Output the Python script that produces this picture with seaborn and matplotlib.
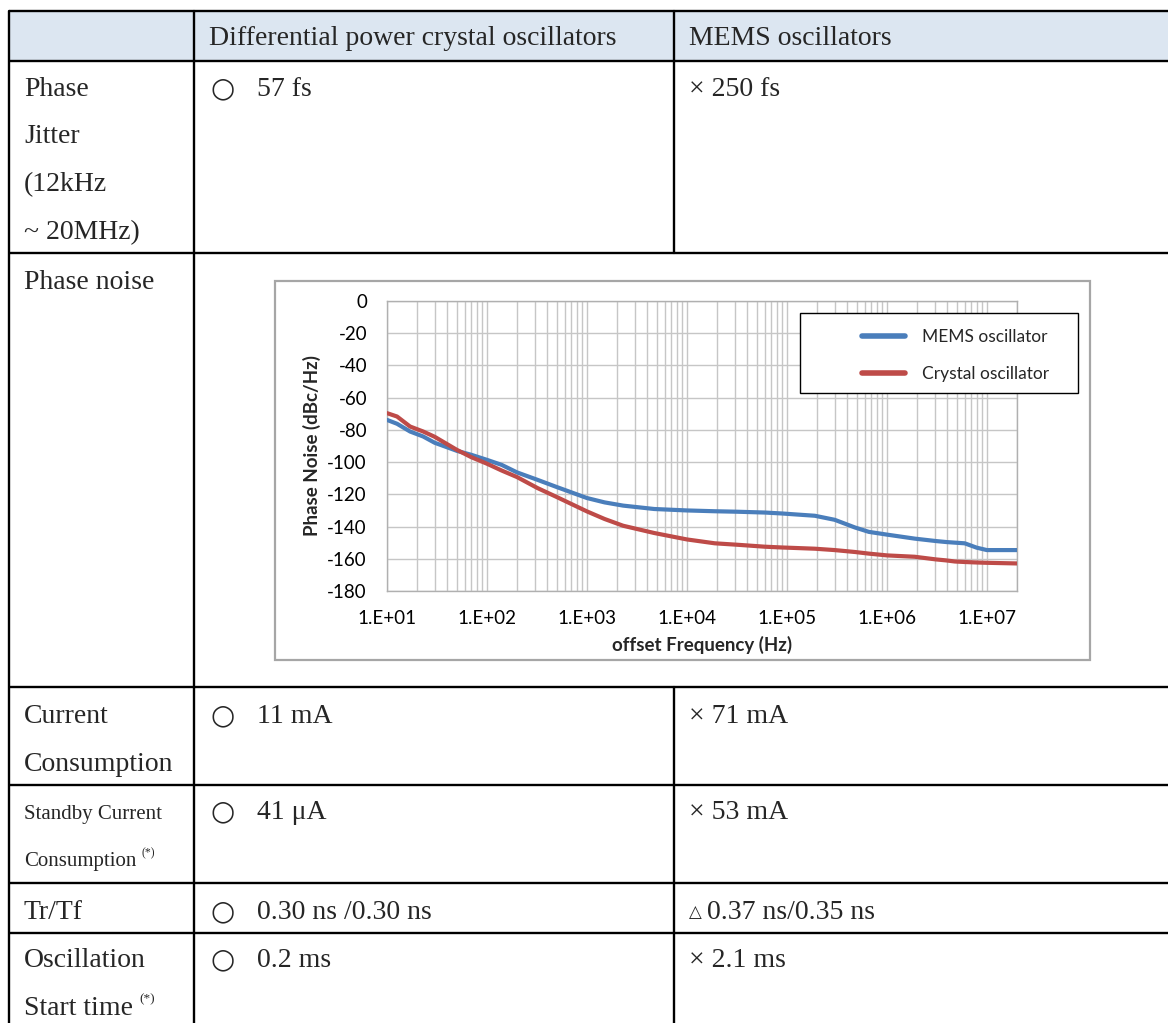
import numpy as np
import pandas as pd
import matplotlib
matplotlib.use("Agg")
import matplotlib.pyplot as plt
from matplotlib.patches import Rectangle
from matplotlib.ticker import LogLocator, NullFormatter
import seaborn as sns

# ---------------- data ----------------
freq_hz = [10, 12.6, 17, 23, 30, 50, 70, 100, 140, 200, 320, 500, 1000, 1500, 2300, 4700,
           1e4, 1.9e4, 3.2e4, 6e4, 9e4, 1.9e5, 3e5, 4.8e5, 6.6e5, 1e6, 1.9e6, 3.1e6, 3.9e6,
           4.8e6, 6e6, 7.9e6, 1e7, 2e7]
mems_noise = [-73.8, -76.2, -81.0, -84.1, -88.0, -93.0, -95.5, -98.6, -101.7, -106.4, -111.0,
              -115.5, -122.3, -125.0, -127.0, -129.1, -130.0, -130.5, -130.8, -131.3, -131.9,
              -133.3, -135.8, -140.6, -143.3, -145.0, -147.5, -149.0, -149.6, -150.0, -150.4,
              -153.1, -154.6, -154.6]
crystal_noise = [-69.6, -71.7, -77.9, -81.0, -84.3, -92.4, -97.0, -101.0, -105.2, -109.3, -116.1,
                 -121.7, -130.6, -135.3, -139.5, -144.0, -148.0, -150.4, -151.3, -152.5, -153.0,
                 -153.75, -154.6, -155.8, -156.8, -157.9, -158.75, -160.4, -161.0, -161.7, -162.0,
                 -162.3, -162.5, -162.9]
series_names = ["MEMS oscillator", "Crystal oscillator"]
series_colors = ["#4a7ebb", "#be4b48"]
x_ticks = [1e1, 1e2, 1e3, 1e4, 1e5, 1e6, 1e7]
x_tick_labels = ["1.E+01", "1.E+02", "1.E+03", "1.E+04", "1.E+05", "1.E+06", "1.E+07"]
y_ticks = [-180, -160, -140, -120, -100, -80, -60, -40, -20, 0]
y_tick_labels = ["-180", "-160", "-140", "-120", "-100", "-80", "-60", "-40", "-20", "0"]

header_cells = ["", "Differential power crystal oscillators", "MEMS oscillators"]
row_labels = [["Phase", "Jitter", "(12kHz", "~ 20MHz)"],
              ["Phase noise"],
              ["Current", "Consumption"],
              ["Standby Current", "Consumption"],
              ["Tr/Tf"],
              ["Oscillation", "Start time"]]
crystal_values = ["57 fs", None, "11 mA", "41 \u03bcA", "0.30 ns /0.30 ns", "0.2 ms"]
mems_values = ["\u00d7 250 fs", None, "\u00d7 71 mA", "\u00d7 53 mA", "0.37 ns/0.35 ns", "\u00d7 2.1 ms"]

df = pd.DataFrame({
    "freq": freq_hz * 2,
    "noise": mems_noise + crystal_noise,
    "series": [series_names[0]] * len(freq_hz) + [series_names[1]] * len(freq_hz),
})

# ---------------- figure ----------------
sns.set_style("white")
plt.rcParams["font.family"] = ["Lato", "DejaVu Sans"]

W, H = 1168, 1023
fig = plt.figure(figsize=(W / 100, H / 100), dpi=100)
fig.patch.set_facecolor("white")

bg = fig.add_axes([0, 0, 1, 1], zorder=0)
bg.set_xlim(0, W)
bg.set_ylim(H, 0)
bg.axis("off")

serif = ["Liberation Serif", "DejaVu Serif"]
lw_tab = 1.7

# header fill
bg.add_patch(Rectangle((9, 11), W - 9, 50, facecolor="#dce6f1", edgecolor="none", zorder=0))

# table lines
for y in [11, 61, 253, 687, 785, 883, 933]:
    bg.plot([9, W], [y, y], color="black", lw=lw_tab, solid_capstyle="butt", zorder=2)
bg.plot([9, 9], [11, H], color="black", lw=lw_tab, zorder=2)
bg.plot([194, 194], [11, H], color="black", lw=lw_tab, zorder=2)
bg.plot([674, 674], [11, 253], color="black", lw=lw_tab, zorder=2)
bg.plot([674, 674], [687, H], color="black", lw=lw_tab, zorder=2)

fs_main = 20
fs_small = 15

# header text
bg.text(209, 45, header_cells[1], fontsize=fs_main, family=serif, va="baseline", ha="left")
bg.text(689, 45, header_cells[2], fontsize=fs_main, family=serif, va="baseline", ha="left")

# row labels
row_baselines = [[96, 143, 191, 239], [289], [723, 771], [819, 866], [919], [967, 1015]]
for r, (labels, bases) in enumerate(zip(row_labels, row_baselines)):
    for lab, yb in zip(labels, bases):
        fs = fs_small if r == 3 else fs_main
        bg.text(24, yb, lab, fontsize=fs, family=serif, va="baseline", ha="left")

# superscripts
bg.text(141, 856, "(*)", fontsize=8.5, family=serif, va="baseline", ha="left")
bg.text(139, 1002, "(*)", fontsize=9.5, family=serif, va="baseline", ha="left")

# values
first_base = [96, None, 723, 819, 919, 967]
for r in range(len(row_labels)):
    yb = first_base[r]
    if yb is None:
        continue
    bg.text(210, yb, "\u25cb", fontsize=20, family=["DejaVu Sans"], va="baseline", ha="left")
    bg.text(257, yb, crystal_values[r], fontsize=fs_main, family=serif, va="baseline", ha="left")
    if r == 4:
        bg.text(689, yb - 2, "\u25b3", fontsize=12, family=["DejaVu Sans"], va="baseline", ha="left")
        bg.text(707, yb, mems_values[r], fontsize=fs_main, family=serif, va="baseline", ha="left")
    else:
        bg.text(689, yb, mems_values[r], fontsize=fs_main, family=serif, va="baseline", ha="left")

# chart frame
bg.add_patch(Rectangle((275, 281), 815, 379, facecolor="white", edgecolor="#a6a6a6", lw=1.6, zorder=3))

# ---------------- chart ----------------
px_l, px_r, px_t, px_b = 387, 1017, 301, 591
ax = fig.add_axes([px_l / W, 1 - px_b / H, (px_r - px_l) / W, (px_b - px_t) / H], zorder=2)
ax.set_facecolor("white")

sns.lineplot(data=df, x="freq", y="noise", hue="series", hue_order=series_names,
             palette=series_colors, linewidth=3.0, ax=ax, legend=True, zorder=3)

ax.set_xscale("log")
ax.set_xlim(10, 2e7)
ax.set_ylim(-180, 0)
ax.set_xticks(x_ticks)
ax.set_xticklabels(x_tick_labels)
ax.xaxis.set_minor_locator(LogLocator(base=10, subs=np.arange(2, 10), numticks=100))
ax.xaxis.set_minor_formatter(NullFormatter())
ax.set_yticks(y_ticks)
ax.set_yticklabels(y_tick_labels)
ax.grid(True, which="both", color="#c6c6c6", lw=1.0, zorder=0)
ax.set_axisbelow(True)
for s in ax.spines.values():
    s.set_color("#b0b0b0")
    s.set_linewidth(1.0)
ax.tick_params(axis="both", which="both", length=0)
ax.tick_params(axis="y", pad=14.4, labelsize=13.5, labelcolor="black")
ax.tick_params(axis="x", pad=14.0, labelsize=13.5, labelcolor="black")

ax.set_xlabel("offset Frequency (Hz)", fontsize=13.5, fontweight="bold")
ax.set_ylabel("Phase Noise (dBc/Hz)", fontsize=13.5, fontweight="bold")
ax.xaxis.set_label_coords(0.5, (px_b - 636) / (px_b - px_t))
ax.yaxis.set_label_coords((321 - px_l) / (px_r - px_l), 0.5)

# legend
handles, labels = ax.get_legend_handles_labels()
ax.get_legend().remove()
ax.add_patch(Rectangle((800, 313), 278, 80, transform=bg.transData, clip_on=False,
                       facecolor="white", edgecolor="black", lw=1.0, zorder=4))
leg = ax.legend(handles, labels, loc="center left", bbox_to_anchor=(862, 355.5),
                bbox_transform=bg.transData, frameon=False, fontsize=12.5,
                handlelength=2.5, handletextpad=0.95, labelspacing=1.2,
                borderpad=0, borderaxespad=0)
leg.set_zorder(5)
for ln in leg.get_lines():
    ln.set_linewidth(4)

fig.savefig("out.png", dpi=100, facecolor="white")
